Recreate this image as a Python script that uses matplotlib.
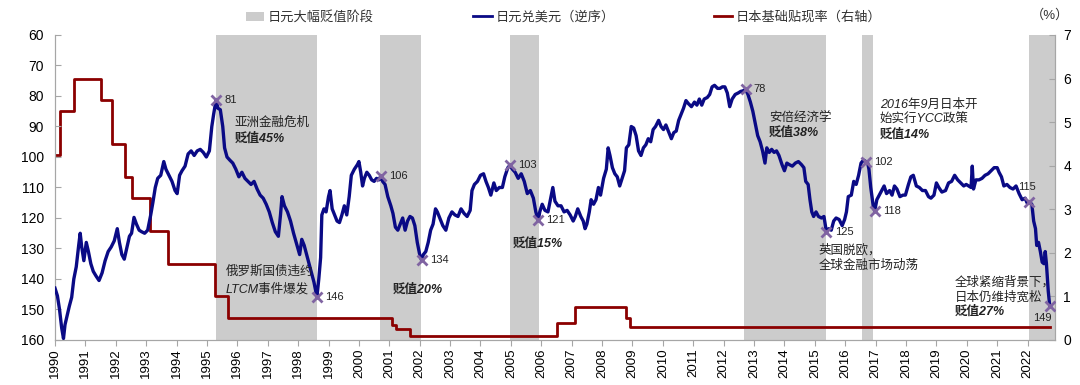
import matplotlib
matplotlib.use("Agg")
import matplotlib.pyplot as plt
from matplotlib.patches import Patch
from matplotlib.lines import Line2D

plt.rcParams['font.family'] = ['Liberation Sans', 'Noto Sans CJK SC']

# USD/JPY (decimal year)
fx_year = [1990.00, 1990.08, 1990.15, 1990.22, 1990.28, 1990.33, 1990.40, 1990.47, 1990.55, 1990.62,
           1990.70, 1990.78, 1990.83, 1990.88, 1990.95, 1991.03, 1991.10, 1991.18, 1991.26, 1991.35,
           1991.45, 1991.55, 1991.65, 1991.75, 1991.85, 1991.95, 1992.05, 1992.12, 1992.20, 1992.28,
           1992.36, 1992.45, 1992.52, 1992.60, 1992.68, 1992.77, 1992.85, 1992.95, 1993.05, 1993.15,
           1993.22, 1993.30, 1993.38, 1993.48, 1993.58, 1993.65, 1993.75, 1993.85, 1993.95, 1994.02,
           1994.10, 1994.18, 1994.28, 1994.38, 1994.48, 1994.58, 1994.68, 1994.78, 1994.88, 1994.98,
           1995.08, 1995.16, 1995.22, 1995.30, 1995.36, 1995.44, 1995.52, 1995.58, 1995.66, 1995.75,
           1995.85, 1995.95, 1996.05, 1996.15, 1996.25, 1996.35, 1996.45, 1996.55, 1996.65, 1996.75,
           1996.85, 1996.95, 1997.05, 1997.15, 1997.25, 1997.35, 1997.42, 1997.47, 1997.55, 1997.65,
           1997.75, 1997.85, 1997.95, 1998.05, 1998.12, 1998.20, 1998.28, 1998.36, 1998.44, 1998.52,
           1998.58, 1998.62, 1998.68, 1998.74, 1998.78, 1998.85, 1998.92, 1999.00, 1999.05, 1999.12,
           1999.20, 1999.28, 1999.36, 1999.44, 1999.52, 1999.60, 1999.68, 1999.75, 1999.85, 1999.95,
           2000.00, 2000.06, 2000.12, 2000.18, 2000.26, 2000.34, 2000.42, 2000.50, 2000.58, 2000.66,
           2000.72, 2000.78, 2000.86, 2000.95, 2001.05, 2001.12, 2001.20, 2001.28, 2001.36, 2001.44,
           2001.52, 2001.60, 2001.68, 2001.76, 2001.84, 2001.92, 2002.00, 2002.06, 2002.12, 2002.20,
           2002.28, 2002.36, 2002.44, 2002.52, 2002.58, 2002.66, 2002.76, 2002.86, 2002.96, 2003.06,
           2003.16, 2003.26, 2003.36, 2003.46, 2003.56, 2003.66, 2003.72, 2003.80, 2003.90, 2004.00,
           2004.10, 2004.18, 2004.26, 2004.34, 2004.44, 2004.52, 2004.62, 2004.72, 2004.80, 2004.90,
           2004.97, 2005.05, 2005.14, 2005.24, 2005.34, 2005.44, 2005.54, 2005.64, 2005.74, 2005.82,
           2005.90, 2005.95, 2006.03, 2006.12, 2006.22, 2006.30, 2006.38, 2006.45, 2006.55, 2006.65,
           2006.75, 2006.85, 2006.95, 2007.05, 2007.12, 2007.20, 2007.30, 2007.38, 2007.44, 2007.50,
           2007.58, 2007.64, 2007.72, 2007.80, 2007.88, 2007.95, 2008.05, 2008.14, 2008.20, 2008.26,
           2008.34, 2008.42, 2008.50, 2008.58, 2008.66, 2008.74, 2008.80, 2008.88, 2008.96, 2009.04,
           2009.12, 2009.20, 2009.28, 2009.36, 2009.44, 2009.52, 2009.60, 2009.68, 2009.76, 2009.86,
           2009.94, 2010.02, 2010.10, 2010.20, 2010.28, 2010.36, 2010.44, 2010.52, 2010.60, 2010.68,
           2010.76, 2010.84, 2010.94, 2011.04, 2011.12, 2011.20, 2011.28, 2011.36, 2011.46, 2011.54,
           2011.62, 2011.70, 2011.80, 2011.88, 2011.96, 2012.04, 2012.12, 2012.20, 2012.28, 2012.38,
           2012.48, 2012.56, 2012.64, 2012.72, 2012.80, 2012.88, 2012.96, 2013.04, 2013.12, 2013.20,
           2013.28, 2013.36, 2013.42, 2013.50, 2013.58, 2013.66, 2013.74, 2013.82, 2013.92, 2014.00,
           2014.08, 2014.16, 2014.26, 2014.36, 2014.46, 2014.56, 2014.64, 2014.70, 2014.78, 2014.84,
           2014.90, 2014.96, 2015.04, 2015.12, 2015.22, 2015.30, 2015.38, 2015.46, 2015.54, 2015.62,
           2015.70, 2015.80, 2015.90, 2015.98, 2016.04, 2016.10, 2016.20, 2016.28, 2016.36, 2016.44,
           2016.52, 2016.60, 2016.68, 2016.74, 2016.78, 2016.84, 2016.92, 2016.97, 2017.04, 2017.12,
           2017.20, 2017.28, 2017.36, 2017.46, 2017.54, 2017.62, 2017.70, 2017.80, 2017.90, 2017.98,
           2018.08, 2018.16, 2018.24, 2018.34, 2018.44, 2018.54, 2018.64, 2018.74, 2018.82, 2018.92,
           2019.00, 2019.08, 2019.18, 2019.30, 2019.40, 2019.50, 2019.60, 2019.70, 2019.80, 2019.90,
           2019.98, 2020.06, 2020.14, 2020.18, 2020.22, 2020.30, 2020.40, 2020.50, 2020.60, 2020.70,
           2020.80, 2020.90, 2021.00, 2021.06, 2021.14, 2021.22, 2021.32, 2021.42, 2021.52, 2021.62,
           2021.72, 2021.82, 2021.92, 2021.98, 2022.06, 2022.14, 2022.20, 2022.26, 2022.30, 2022.36,
           2022.42, 2022.48, 2022.54, 2022.58, 2022.62, 2022.68, 2022.73]
fx_value = [143.0, 145.5, 150.0, 156.0, 159.5, 155.0, 152.0, 149.0, 146.0, 140.0,
            136.0, 129.0, 125.0, 129.5, 134.0, 128.0, 131.0, 135.0, 137.5, 139.0,
            140.5, 138.0, 134.0, 131.0, 129.5, 127.5, 123.5, 128.0, 132.0, 133.5,
            130.0, 126.0, 125.0, 119.8, 122.0, 124.0, 124.5, 125.0, 124.0, 119.0,
            115.0, 110.0, 107.0, 106.0, 101.5, 104.0, 106.0, 108.0, 111.0, 112.0,
            106.0, 104.5, 103.0, 99.0, 98.0, 99.5, 98.0, 97.5, 98.5, 100.0,
            98.0, 90.0, 86.0, 81.3, 84.0, 84.5, 90.0, 97.0, 100.0, 101.0,
            102.0, 104.0, 106.5, 105.0, 107.0, 108.0, 109.0, 108.0, 110.5, 112.5,
            113.5, 115.5, 118.0, 121.5, 124.5, 126.0, 119.0, 113.0, 116.0, 118.0,
            121.0, 125.0, 128.5, 132.0, 127.0, 129.0, 132.0, 135.0, 138.0, 141.0,
            144.0, 145.8, 140.0, 133.0, 119.0, 117.0, 118.0, 113.0, 111.0, 117.0,
            119.0, 121.0, 121.5, 119.0, 116.0, 119.0, 113.0, 106.0, 104.0, 102.5,
            101.5, 105.0, 109.5, 107.0, 105.0, 106.0, 107.5, 108.0, 107.0, 107.5,
            106.2, 108.0, 109.0, 113.0, 116.0, 118.5, 123.0, 124.0, 122.0, 120.0,
            124.0, 121.0, 119.5, 120.0, 122.5, 128.0, 132.0, 133.8, 132.0, 131.0,
            128.0, 124.0, 122.0, 117.0, 118.0, 120.0, 122.5, 124.0, 120.0, 118.0,
            119.0, 119.5, 117.0, 118.5, 119.5, 117.5, 111.0, 109.0, 108.0, 106.0,
            105.5, 108.0, 110.0, 112.5, 108.5, 111.0, 110.0, 110.0, 106.5, 103.5,
            102.7, 104.0, 105.0, 107.0, 105.5, 108.0, 112.0, 111.0, 113.5, 118.0,
            120.8, 118.0, 115.5, 117.5, 118.0, 114.0, 110.0, 114.5, 116.0, 116.0,
            118.0, 117.5, 119.0, 121.0, 119.5, 117.0, 119.5, 121.0, 123.5, 122.0,
            118.0, 114.0, 115.5, 114.0, 110.0, 112.5, 107.0, 104.0, 97.0, 99.5,
            103.5, 105.5, 106.5, 109.5, 107.0, 104.5, 97.0, 96.0, 90.0, 90.5,
            93.0, 98.0, 99.5, 97.0, 96.0, 94.0, 95.0, 91.0, 90.0, 88.0,
            90.0, 91.0, 89.5, 92.0, 94.0, 92.0, 91.5, 88.0, 86.0, 84.0,
            81.5, 82.5, 83.5, 82.0, 83.0, 81.0, 83.0, 81.0, 80.5, 79.5,
            77.0, 76.5, 77.5, 77.5, 77.0, 77.0, 79.0, 83.5, 81.0, 79.5,
            79.0, 78.5, 78.3, 77.8, 79.5, 82.0, 85.0, 89.0, 93.0, 95.0,
            98.0, 102.0, 97.0, 98.5, 97.5, 98.5, 98.0, 99.5, 102.5, 104.5,
            102.0, 102.5, 103.0, 102.0, 101.5, 102.5, 103.5, 108.0, 109.0, 114.0,
            118.0, 119.5, 118.0, 119.5, 120.0, 119.5, 124.5, 123.5, 124.0, 121.0,
            120.0, 120.5, 122.5, 120.5, 118.0, 113.0, 112.5, 108.0, 109.0, 106.0,
            102.0, 101.0, 101.5, 102.0, 104.0, 110.0, 116.0, 117.8, 114.0, 112.5,
            111.0, 109.5, 112.0, 111.0, 112.5, 109.5, 110.5, 113.0, 112.5, 112.5,
            109.0, 106.5, 106.0, 109.5, 110.0, 111.0, 111.0, 113.0, 113.5, 112.5,
            108.5, 110.0, 111.5, 111.0, 108.5, 108.0, 106.0, 107.5, 108.5, 109.5,
            109.0, 109.5, 110.0, 103.0, 110.5, 107.5, 107.5, 107.0, 106.0, 105.5,
            104.5, 103.5, 103.5, 105.0, 106.5, 109.5, 109.0, 110.0, 110.5, 109.5,
            112.0, 114.0, 113.5, 115.0, 114.8, 115.5, 121.0, 123.5, 129.0, 128.0,
            131.0, 134.5, 135.0, 131.0, 135.0, 144.0, 149.0]

# Japan basic discount rate (%)
rate_year = [1990.0, 1990.18, 1990.62, 1991.52, 1991.87, 1992.3, 1992.54, 1993.12, 1993.73,
             1995.27, 1995.7, 2001.1, 2001.22, 2001.68, 2006.52, 2007.12, 2008.78, 2008.93, 2022.73]
rate_value = [4.25, 5.25, 6.0, 5.5, 4.5, 3.75, 3.25, 2.5, 1.75,
              1.0, 0.5, 0.35, 0.25, 0.1, 0.4, 0.75, 0.5, 0.3, 0.3]

# yen depreciation periods
shade_start = [1995.3, 2000.69, 2004.98, 2012.66, 2016.56, 2022.03]
shade_end = [1998.62, 2002.03, 2005.93, 2015.36, 2016.92, 2022.9]

# marked turning points
mark_year = [1995.30, 1998.62, 2000.72, 2002.06, 2004.97, 2005.90, 2012.72, 2015.38, 2016.68, 2016.97, 2022.06, 2022.73]
mark_value = [81.3, 145.8, 106.2, 133.8, 102.7, 120.8, 77.8, 124.5, 101.5, 117.8, 114.8, 149.0]
mark_label = ["81", "146", "106", "134", "103", "121", "78", "125", "102", "118", "115", "149"]

years = list(range(1990, 2023))

navy = "#0a0a85"
red = "#8b0000"
shade = "#cccccc"

fig = plt.figure(figsize=(10.8, 3.85), dpi=100)
ax2 = fig.add_axes([0.0509, 0.1169, 0.9259, 0.7922])
ax = ax2.twinx()
ax.yaxis.tick_left()
ax2.yaxis.tick_right()

for s, e in zip(shade_start, shade_end):
    ax2.axvspan(s, e, color=shade, lw=0, zorder=0)
ax2.plot(rate_year, rate_value, color=red, lw=2.0, drawstyle="steps-post", zorder=2)

ax.plot(fx_year, fx_value, color=navy, lw=2.4, zorder=3)
ax.plot(mark_year, mark_value, "x", color="#8064a2", ms=7, mew=2, zorder=4)

for xx, yy, lab in zip(mark_year, mark_value, mark_label):
    if lab == "115":
        ax.annotate(lab, (xx, yy), xytext=(-2, 11), textcoords="offset points",
                    fontsize=8, color="#222222", ha="center", va="center")
    elif lab == "149":
        ax.annotate(lab, (xx, yy), xytext=(-5, -8), textcoords="offset points",
                    fontsize=8, color="#222222", ha="center", va="center")
    else:
        ax.annotate(lab, (xx, yy), xytext=(6, 0), textcoords="offset points",
                    fontsize=8, color="#222222", ha="left", va="center")

notes = [
    (1995.92, 88.9, "亚洲金融危机", "normal"),
    (1995.92, 94.1, "贬值45%", "bold"),
    (1995.63, 137.7, "俄罗斯国债违约", "normal"),
    (1995.63, 143.3, "LTCM事件爆发", "normal"),
    (2001.12, 143.6, "贬值20%", "bold"),
    (2005.07, 128.5, "贬值15%", "bold"),
    (2013.49, 87.2, "安倍经济学", "normal"),
    (2013.49, 92.1, "贬值38%", "bold"),
    (2015.13, 130.5, "英国脱欧，", "normal"),
    (2015.13, 135.7, "全球金融市场动荡", "normal"),
    (2017.14, 83.0, "2016年9月日本开", "normal"),
    (2017.14, 87.9, "始实行YCC政策", "normal"),
    (2017.14, 92.8, "贬值14%", "bold"),
    (2019.61, 141.0, "全球紧缩背景下，", "normal"),
    (2019.61, 145.9, "日本仍维持宽松", "normal"),
    (2019.61, 150.8, "贬值27%", "bold"),
]
for xx, yy, txt, w in notes:
    ax.text(xx, yy, txt, fontsize=9, style="italic", weight=w, color="#222222",
            ha="left", va="center", zorder=5)

ax.set_xlim(1990, 2022.9)
ax.set_ylim(160, 60)
ax.set_yticks(range(60, 161, 10))
ax2.set_ylim(0, 7)
ax2.set_yticks(range(0, 8))
ax2.set_xticks(years)
ax2.set_xticklabels([str(y) for y in years], rotation=90)

for a in (ax, ax2):
    a.spines["top"].set_visible(False)
    for side in ("left", "right", "bottom"):
        a.spines[side].set_color("#a6a6a6")
ax.tick_params(axis="y", direction="in", length=4, color="#a6a6a6", labelsize=10, pad=8)
ax2.tick_params(axis="y", direction="in", length=4, color="#a6a6a6", labelsize=10, pad=6)
ax2.tick_params(axis="x", direction="out", length=4, color="#a6a6a6", labelsize=9.5, pad=2)

handles = [Patch(facecolor=shade, edgecolor="none"),
           Line2D([0], [0], color=navy, lw=2),
           Line2D([0], [0], color=red, lw=2)]
labels = ["日元大幅贬值阶段", "日元兑美元（逆序）", "日本基础贴现率（右轴）"]
fig.legend(handles, labels, loc="center", bbox_to_anchor=(0.522, 0.955), ncol=3,
           frameon=False, fontsize=9.5, columnspacing=7.5, handlelength=1.4,
           handletextpad=0.3, labelcolor="#333333")
fig.text(0.972, 0.96, "（%）", fontsize=9.5, color="#333333", ha="center", va="center")

fig.savefig("out.png", dpi=100)
